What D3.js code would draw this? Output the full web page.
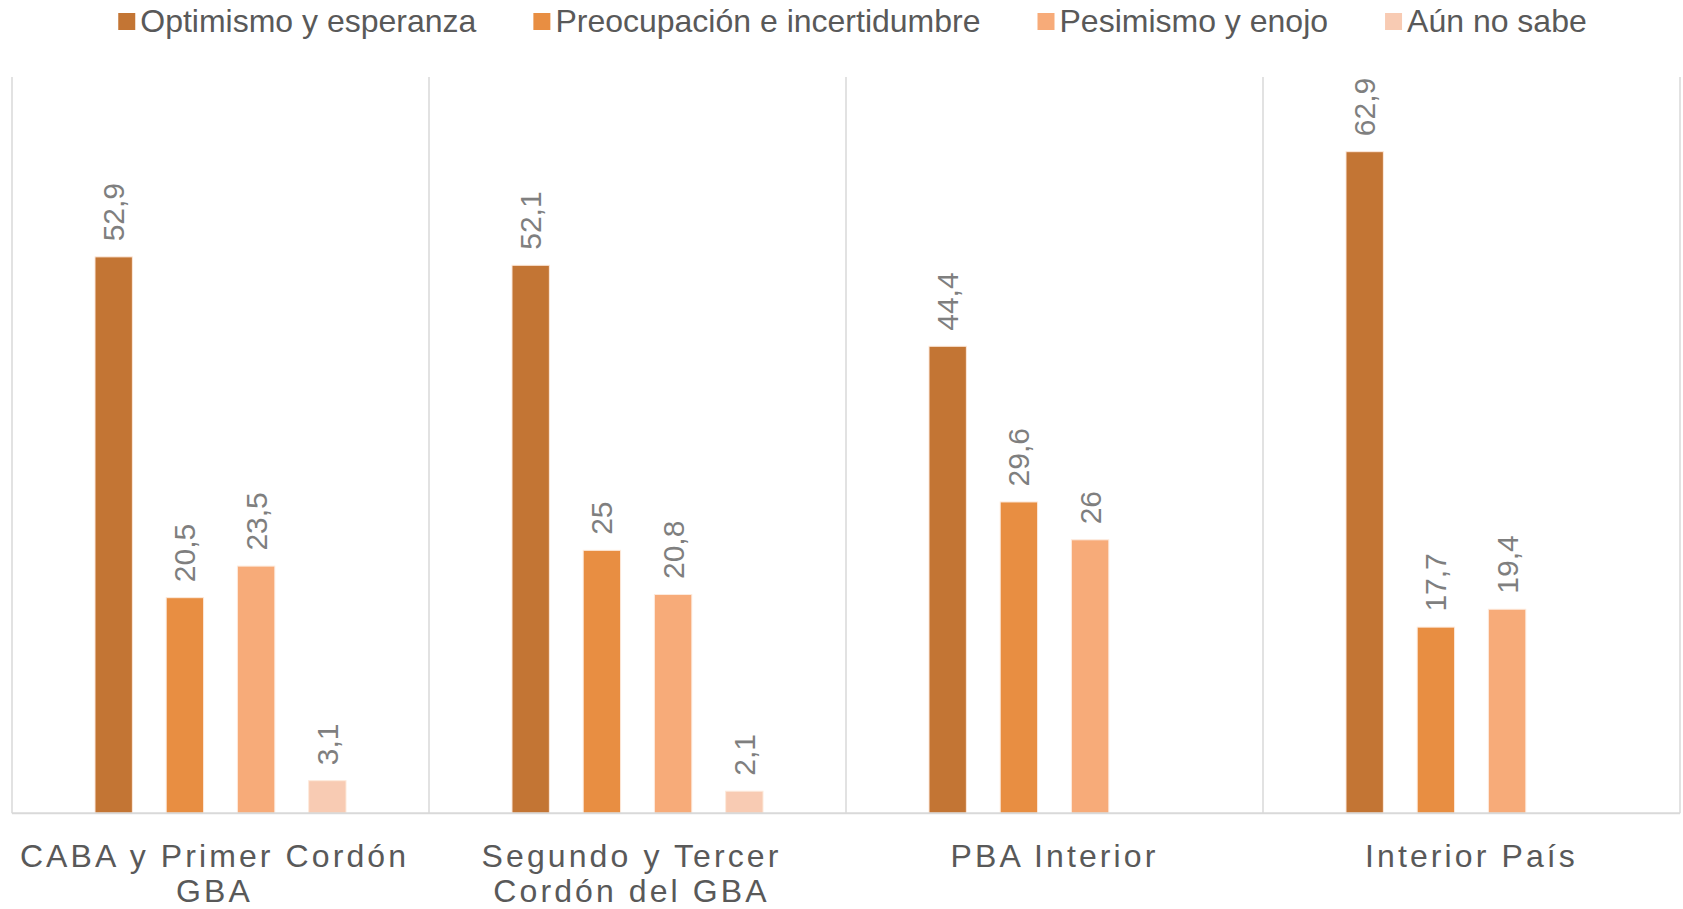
<!DOCTYPE html>
<html lang="es">
<head>
<meta charset="utf-8">
<title>Estado de ánimo por región</title>
<script src="https://cdn.jsdelivr.net/npm/d3@7/dist/d3.min.js"></script>
<style>
  html, body { margin: 0; padding: 0; background: #ffffff; }
  svg { display: block; font-family: "Liberation Sans", Arial, Helvetica, sans-serif; }
</style>
</head>
<body>
<svg id="chart" width="1683" height="909"></svg>
<script>
// Regions (x axis) and answer series
const categories = [
  "CABA y Primer Cordón GBA",
  "Segundo y Tercer Cordón del GBA",
  "PBA Interior",
  "Interior País"
];
const seriesNames = [
  "Optimismo y esperanza",
  "Preocupación e incertidumbre",
  "Pesimismo y enojo",
  "Aún no sabe"
];
const optimismo    = [52.9, 52.1, 44.4, 62.9];
const preocupacion = [20.5, 25,   29.6, 17.7];
const pesimismo    = [23.5, 20.8, 26,   19.4];
const noSabe       = [3.1,  2.1,  null, null];
const seriesColors = ["#C37534", "#E88E42", "#F7AB79", "#F8CBB3"];

const seriesValues = [optimismo, preocupacion, pesimismo, noSabe];

const plot = { left: 12, right: 1680, top: 77, bottom: 813.3 };

const svg = d3.select("#chart");

// Scales
const x0 = d3.scaleBand().domain(categories).range([plot.left, plot.right]).padding(0);
const gw = x0.bandwidth();
const x1 = d3.scaleBand().domain(seriesNames)
  .range([gw * 0.199, gw * (1 - 0.199)])
  .paddingInner(0.475).paddingOuter(0);
const y = d3.scaleLinear().domain([0, 70]).range([plot.bottom, plot.top]);

const fmt = v => String(v).replace(".", ",");

// Vertical separators between regions
const edges = categories.map(c => x0(c)).concat([plot.right]);
svg.append("g").selectAll("line").data(edges).join("line")
  .attr("x1", d => d).attr("x2", d => d)
  .attr("y1", plot.top).attr("y2", plot.bottom)
  .attr("stroke", "#d9d9d9").attr("stroke-width", 1.5);

// Bars
const rows = [];
categories.forEach((c, ci) => {
  seriesNames.forEach((s, si) => {
    const v = seriesValues[si][ci];
    if (v != null) rows.push({ c, s, si, v });
  });
});

svg.append("g").selectAll("rect").data(rows).join("rect")
  .attr("x", d => x0(d.c) + x1(d.s))
  .attr("y", d => y(d.v))
  .attr("width", x1.bandwidth())
  .attr("height", d => y(0) - y(d.v))
  .attr("fill", d => seriesColors[d.si])
  .attr("stroke", "#fdeadc").attr("stroke-width", 1);

// Value labels, rotated above each bar
svg.append("g").selectAll("text").data(rows).join("text")
  .attr("transform", d => {
    const cx = x0(d.c) + x1(d.s) + x1.bandwidth() / 2;
    return `translate(${cx},${y(d.v) - 15.5}) rotate(-90)`;
  })
  .attr("text-anchor", "start")
  .attr("dominant-baseline", "central")
  .attr("font-size", 30)
  .attr("fill", "#7f7f7f")
  .text(d => fmt(d.v));

// Baseline
svg.append("line")
  .attr("x1", plot.left).attr("x2", plot.right)
  .attr("y1", plot.bottom).attr("y2", plot.bottom)
  .attr("stroke", "#d9d9d9").attr("stroke-width", 2);

// Category labels with word wrapping
const gLab = svg.append("g")
  .attr("font-size", 32)
  .attr("letter-spacing", 3.1)
  .attr("fill", "#595959");

const measurer = gLab.append("text").attr("visibility", "hidden");
const textWidth = s => { measurer.text(s); return measurer.node().getComputedTextLength(); };
const maxLine = gw - 8;
const spaceW = textWidth("a b") - textWidth("ab");

categories.forEach(c => {
  const words = c.split(" ");
  const lines = [];
  let cur = "";
  words.forEach(w => {
    const t = cur ? cur + " " + w : w;
    if (cur && textWidth(t) > maxLine) { lines.push(cur); cur = w; }
    else cur = t;
  });
  lines.push(cur);
  const shift = lines.length > 1 ? -spaceW / 2 : 0;
  const cx = x0(c) + gw / 2 + shift;
  const t = gLab.append("text").attr("text-anchor", "middle");
  lines.forEach((ln, i) => {
    t.append("tspan").attr("x", cx).attr("y", 866.5 + i * 35).text(ln);
  });
});
measurer.remove();

// Legend
const gLeg = svg.append("g").attr("font-size", 32).attr("fill", "#595959");
const items = gLeg.selectAll("g").data(seriesNames).join("g");
items.append("rect")
  .attr("x", 0).attr("y", 13).attr("width", 17).attr("height", 17)
  .attr("fill", (d, i) => seriesColors[i]);
items.append("text")
  .attr("x", 22).attr("y", 32)
  .text(d => d);
const legGap = 57;
let offset = 0;
const positions = [];
items.each(function () {
  const w = d3.select(this).select("text").node().getComputedTextLength();
  positions.push(offset);
  offset += 22 + w + legGap;
});
const total = offset - legGap;
const startX = 852.5 - total / 2;
items.attr("transform", (d, i) => `translate(${startX + positions[i]},0)`);
</script>
</body>
</html>
